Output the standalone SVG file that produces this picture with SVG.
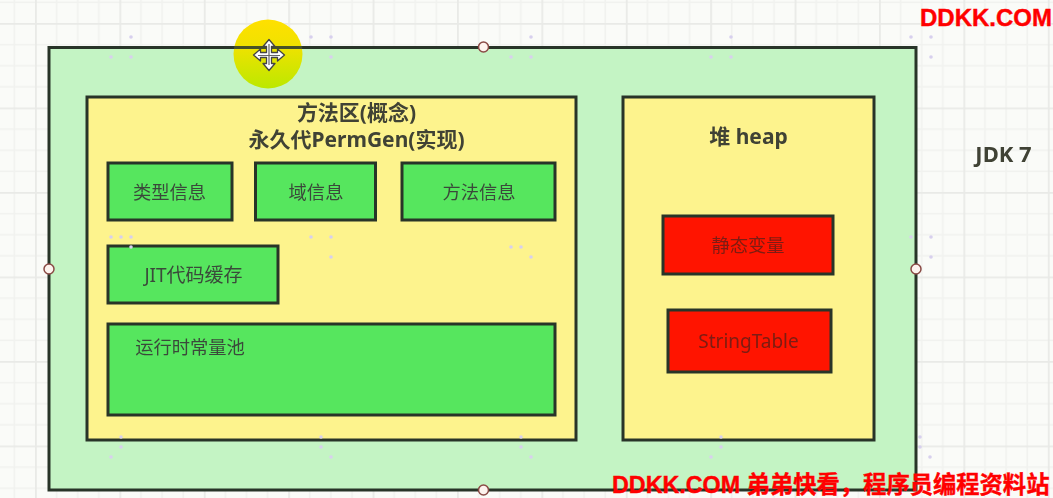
<svg xmlns="http://www.w3.org/2000/svg" width="1053" height="498" viewBox="0 0 1053 498">
<style>
text{font-family:"Noto Sans","Noto Sans CJK SC",sans-serif;fill:#3a4a3a;text-anchor:middle;filter:url(#soft)}
.box{stroke:#283428;stroke-width:3}
.outer{fill:#c4f4c4}
.yellow{fill:#fdf38d}
.green{fill:#56e65e}
.red{fill:#ff1400}
.t{font-size:18.300px}
.title{font-size:21px;font-weight:700;fill:#3f4234}
.rt{font-size:18.300px;fill:#7c1c12}
text.wm{font-family:"Liberation Sans","Noto Sans CJK SC",sans-serif;font-weight:700;fill:#ff0000;stroke:#ff0000;stroke-width:.4;text-anchor:start;font-size:23.300px;filter:none}
.h{fill:#fdf3ee;stroke:#8a4a45;stroke-width:1.500}
.d{fill:#d8d0ee}
</style>
<defs>
<filter id="soft" x="-5%" y="-20%" width="110%" height="140%"><feGaussianBlur stdDeviation=".35"/></filter>
<pattern id="grid" width="84.4" height="84.5" patternUnits="userSpaceOnUse" patternTransform="translate(35 23)">
<rect width="84.4" height="84.5" fill="#fafbf8"/>
<path d="M21.600 0V84.500M42.700 0V84.500M63.800 0V84.500M0 21.600H84.400M0 42.700H84.400M0 63.800H84.400" stroke="#f1f2ef" stroke-width="1.500" fill="none"/>
<path d="M.8 0V84.500M0 .8H84.400" stroke="#e9eae7" stroke-width="2" fill="none"/>
</pattern>
<linearGradient id="spot" x1="0" y1="0" x2="0" y2="1">
<stop offset="0" stop-color="#ffe000"/><stop offset=".38" stop-color="#f0e200"/><stop offset="1" stop-color="#bce800"/>
</linearGradient>
</defs>
<rect id="background" width="1053" height="498" fill="url(#grid)"/>
<g id="jdk7"><rect class="box outer" x="49" y="47.500" width="867" height="442.500"/></g>
<g id="connectors"/>
<g id="method-area"><rect class="box yellow" x="87" y="97" width="489" height="343"/>
<text class="title" x="356.500" y="120">方法区(概念)</text>
<text class="title" x="356.500" y="147">永久代PermGen(实现)</text></g>
<g id="heap"><rect class="box yellow" x="623" y="97" width="251" height="343"/>
<text class="title" x="748.500" y="144">堆 heap</text></g>
<g id="type-info"><rect class="box green" x="108" y="163" width="124" height="57"/><text class="t" x="169.500" y="199">类型信息</text></g>
<g id="field-info"><rect class="box green" x="255.500" y="163" width="120" height="57"/><text class="t" x="316" y="199">域信息</text></g>
<g id="method-info"><rect class="box green" x="402" y="163" width="153" height="57"/><text class="t" x="479" y="199">方法信息</text></g>
<g id="jit-cache"><rect class="box green" x="108" y="246" width="170" height="57"/><text class="t" x="193.500" y="282" style="font-size:19px">JIT代码缓存</text></g>
<g id="constant-pool"><rect class="box green" x="108" y="324" width="447" height="91"/><text class="t" x="190" y="354">运行时常量池</text></g>
<g id="static-vars"><rect class="box red" x="663" y="216" width="170" height="58"/><text class="rt" x="748" y="252">静态变量</text></g>
<g id="string-table"><rect class="box red" x="668" y="310" width="163" height="62"/><text class="rt" x="748.500" y="348" style="font-size:19px">StringTable</text></g>
<g id="dots" class="d">
<circle cx="131" cy="37" r="1.800"/><circle cx="111" cy="57" r="1.800"/><circle cx="131" cy="57" r="1.800"/>
<circle cx="311" cy="37" r="1.800"/><circle cx="331" cy="37" r="1.800"/><circle cx="331" cy="57" r="1.800"/>
<circle cx="531" cy="37" r="1.800"/><circle cx="511" cy="57" r="1.800"/><circle cx="531" cy="57" r="1.800"/>
<circle cx="731" cy="37" r="1.800"/><circle cx="711" cy="57" r="1.800"/><circle cx="731" cy="57" r="1.800"/>
<circle cx="911" cy="37" r="1.800"/><circle cx="931" cy="37" r="1.800"/><circle cx="931" cy="57" r="1.800"/>
<circle cx="111" cy="237" r="1.800"/><circle cx="121" cy="237" r="1.800"/><circle cx="131" cy="237" r="1.800"/><circle cx="131" cy="247" r="1.800"/>
<circle cx="311" cy="237" r="1.800"/><circle cx="331" cy="237" r="1.800"/><circle cx="331" cy="257" r="1.800"/>
<circle cx="511" cy="247" r="1.800"/><circle cx="521" cy="247" r="1.800"/><circle cx="531" cy="257" r="1.800"/>
<circle cx="911" cy="237" r="1.800"/><circle cx="931" cy="237" r="1.800"/><circle cx="931" cy="257" r="1.800"/>
<circle cx="121" cy="437" r="1.800"/><circle cx="121" cy="447" r="1.800"/><circle cx="111" cy="457" r="1.800"/>
<circle cx="321" cy="437" r="1.800"/><circle cx="321" cy="447" r="1.800"/><circle cx="331" cy="457" r="1.800"/>
<circle cx="521" cy="437" r="1.800"/><circle cx="521" cy="447" r="1.800"/><circle cx="531" cy="457" r="1.800"/>
<circle cx="721" cy="437" r="1.800"/><circle cx="721" cy="447" r="1.800"/><circle cx="711" cy="457" r="1.800"/>
<circle cx="920" cy="437" r="1.800"/><circle cx="920" cy="447" r="1.800"/><circle cx="930" cy="457" r="1.800"/>
</g>
<g id="handles">
<circle class="h" cx="483.500" cy="47" r="5"/><circle class="h" cx="49" cy="269" r="5"/><circle class="h" cx="916" cy="269" r="5"/><circle class="h" cx="483.500" cy="490" r="5"/>
</g>
<g id="cursor-highlight">
<circle cx="268" cy="54" r="34.500" fill="url(#spot)"/>
<path d="M233.500 47.500H303" stroke="#2b3a2e" stroke-width="3" opacity=".85"/>
<path d="M269 39.500l6 7h-3.500v6h6v-3.500l7 6-7 6v-3.500h-6v6h3.500l-6 7-6-7h3.500v-6h-6v3.500l-7-6 7-6v3.500h6v-6h-3.500z" fill="#fff" stroke="#444" stroke-width="1.300" stroke-linejoin="round"/>
<path d="M269 44v21M258 55.500h22" stroke="#666" stroke-width="1.200"/>
</g>
<text class="title" x="1003.500" y="162" style="font-size:22px">JDK 7</text>
<text class="wm" x="920" y="26" style="font-size:24px">DDKK.COM</text>
<text class="wm" x="612" y="493">DDKK.COM 弟弟快看，程序员编程资料站</text>
</svg>
